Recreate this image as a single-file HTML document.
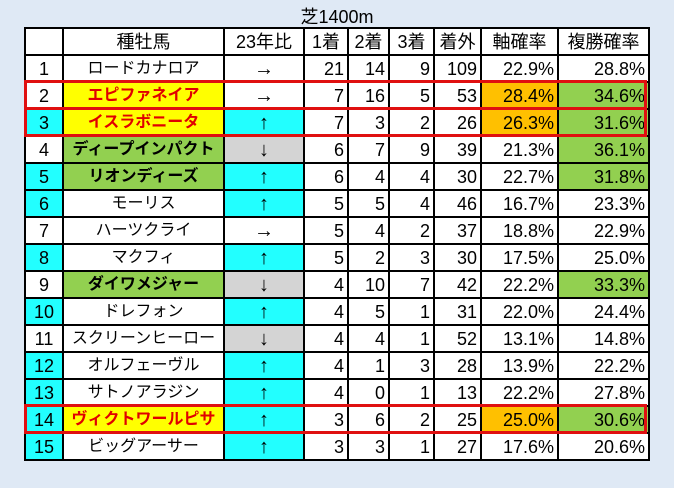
<!DOCTYPE html><html><head><meta charset="utf-8"><style>
body{margin:0;width:674px;height:488px;background:#dfe9f5;position:relative;overflow:hidden;font-family:"Liberation Sans","Noto Sans CJK JP",sans-serif;}
.t{position:absolute;top:3px;left:0;width:674px;text-align:center;font-size:18px;color:#000;}
table{position:absolute;left:24px;top:27px;border-collapse:collapse;table-layout:fixed;width:624px;background:#fff;font-size:18px;}
td{border:2px solid #000;padding:0 3px;line-height:22px;white-space:nowrap;overflow:hidden;}
tr{height:27px}
td.n{font-size:16px;padding:0 1px}
.c{text-align:center}.r{text-align:right}
.ar{font-size:20px}
.cy{background:#22ffff}.gy{background:#d4d4d4}.ye{background:#ffff00;color:#e00000;font-weight:bold}
.gr{background:#92d050}.gn{background:#92d050;font-weight:bold}.or{background:#ffc000}
.box{position:absolute;left:24px;width:623px;border:3px solid #e01010;box-sizing:border-box;}
</style></head><body>
<div class="t">芝1400m</div>
<table>
<colgroup><col style="width:38px"><col style="width:161px"><col style="width:80px"><col style="width:44px"><col style="width:41px"><col style="width:45px"><col style="width:47px"><col style="width:77px"><col style="width:91px"></colgroup>
<tr><td></td><td class="c">種牡馬</td><td class="c">23年比</td><td class="c">1着</td><td class="c">2着</td><td class="c">3着</td><td class="c">着外</td><td class="c">軸確率</td><td class="c">複勝確率</td></tr>
<tr><td class="c">1</td><td class="c n">ロードカナロア</td><td class="c ar">→</td><td class="r">21</td><td class="r">14</td><td class="r">9</td><td class="r">109</td><td class="r">22.9%</td><td class="r">28.8%</td></tr>
<tr><td class="c">2</td><td class="c n ye">エピファネイア</td><td class="c ar">→</td><td class="r">7</td><td class="r">16</td><td class="r">5</td><td class="r">53</td><td class="r or">28.4%</td><td class="r gr">34.6%</td></tr>
<tr><td class="c cy">3</td><td class="c n ye">イスラボニータ</td><td class="c cy ar">↑</td><td class="r">7</td><td class="r">3</td><td class="r">2</td><td class="r">26</td><td class="r or">26.3%</td><td class="r gr">31.6%</td></tr>
<tr><td class="c">4</td><td class="c n gn">ディープインパクト</td><td class="c gy ar">↓</td><td class="r">6</td><td class="r">7</td><td class="r">9</td><td class="r">39</td><td class="r">21.3%</td><td class="r gr">36.1%</td></tr>
<tr><td class="c cy">5</td><td class="c n gn">リオンディーズ</td><td class="c cy ar">↑</td><td class="r">6</td><td class="r">4</td><td class="r">4</td><td class="r">30</td><td class="r">22.7%</td><td class="r gr">31.8%</td></tr>
<tr><td class="c cy">6</td><td class="c n">モーリス</td><td class="c cy ar">↑</td><td class="r">5</td><td class="r">5</td><td class="r">4</td><td class="r">46</td><td class="r">16.7%</td><td class="r">23.3%</td></tr>
<tr><td class="c">7</td><td class="c n">ハーツクライ</td><td class="c ar">→</td><td class="r">5</td><td class="r">4</td><td class="r">2</td><td class="r">37</td><td class="r">18.8%</td><td class="r">22.9%</td></tr>
<tr><td class="c cy">8</td><td class="c n">マクフィ</td><td class="c cy ar">↑</td><td class="r">5</td><td class="r">2</td><td class="r">3</td><td class="r">30</td><td class="r">17.5%</td><td class="r">25.0%</td></tr>
<tr><td class="c">9</td><td class="c n gn">ダイワメジャー</td><td class="c gy ar">↓</td><td class="r">4</td><td class="r">10</td><td class="r">7</td><td class="r">42</td><td class="r">22.2%</td><td class="r gr">33.3%</td></tr>
<tr><td class="c cy">10</td><td class="c n">ドレフォン</td><td class="c cy ar">↑</td><td class="r">4</td><td class="r">5</td><td class="r">1</td><td class="r">31</td><td class="r">22.0%</td><td class="r">24.4%</td></tr>
<tr><td class="c">11</td><td class="c n">スクリーンヒーロー</td><td class="c gy ar">↓</td><td class="r">4</td><td class="r">4</td><td class="r">1</td><td class="r">52</td><td class="r">13.1%</td><td class="r">14.8%</td></tr>
<tr><td class="c cy">12</td><td class="c n">オルフェーヴル</td><td class="c cy ar">↑</td><td class="r">4</td><td class="r">1</td><td class="r">3</td><td class="r">28</td><td class="r">13.9%</td><td class="r">22.2%</td></tr>
<tr><td class="c cy">13</td><td class="c n">サトノアラジン</td><td class="c cy ar">↑</td><td class="r">4</td><td class="r">0</td><td class="r">1</td><td class="r">13</td><td class="r">22.2%</td><td class="r">27.8%</td></tr>
<tr><td class="c cy">14</td><td class="c n ye">ヴィクトワールピサ</td><td class="c cy ar">↑</td><td class="r">3</td><td class="r">6</td><td class="r">2</td><td class="r">25</td><td class="r or">25.0%</td><td class="r gr">30.6%</td></tr>
<tr><td class="c cy">15</td><td class="c n">ビッグアーサー</td><td class="c cy ar">↑</td><td class="r">3</td><td class="r">3</td><td class="r">1</td><td class="r">27</td><td class="r">17.6%</td><td class="r">20.6%</td></tr>
</table>
<div class="box" style="top:80px;height:30px"></div>
<div class="box" style="top:107px;height:30px"></div>
<div class="box" style="top:404px;height:30px"></div>
</body></html>
